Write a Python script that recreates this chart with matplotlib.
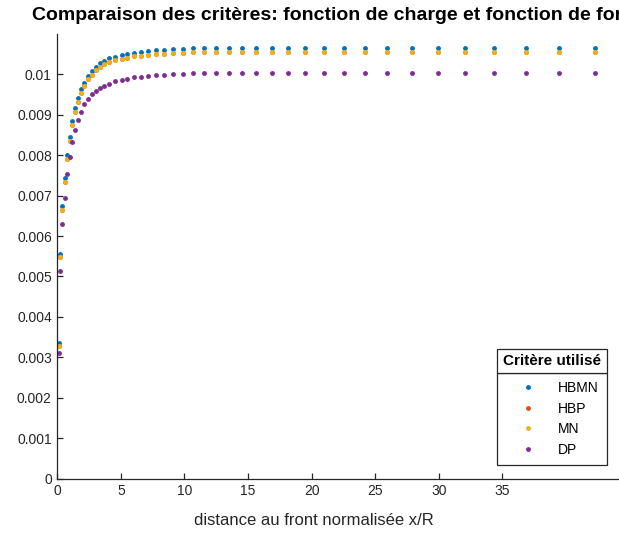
import numpy as np
import matplotlib
matplotlib.use("Agg")
import matplotlib.pyplot as plt
from matplotlib.patches import Rectangle

plt.rcParams['font.family'] = ['Liberation Sans', 'DejaVu Sans']

# x/R positions (same grid for every criterion)
x_norm = [0.13, 0.25, 0.39, 0.61, 0.79, 0.96, 1.18, 1.39, 1.60, 1.86,
          2.12, 2.41, 2.73, 3.04, 3.36, 3.67, 4.06, 4.54, 5.06, 5.50,
          6.03, 6.58, 7.15, 7.76, 8.41, 9.07, 9.86, 10.69, 11.56, 12.48,
          13.50, 14.52, 15.62, 16.88, 18.14, 19.47, 20.97, 22.54, 24.19, 25.92,
          27.89, 29.93, 32.05, 34.33, 36.85, 39.44, 42.27]

hbmn = [0.00335, 0.00555, 0.00674, 0.00743, 0.00800, 0.00844, 0.00884, 0.00916, 0.00942, 0.00963,
        0.00979, 0.00996, 0.01008, 0.01019, 0.01027, 0.01033, 0.01039, 0.01043, 0.01047, 0.01050,
        0.01053, 0.01055, 0.01057, 0.01059, 0.01061, 0.01062, 0.01063, 0.01064, 0.01065, 0.01065,
        0.01066, 0.01066, 0.01066, 0.01066, 0.01066, 0.01066, 0.01066, 0.01066, 0.01066, 0.01066,
        0.01066, 0.01066, 0.01066, 0.01066, 0.01066, 0.01066, 0.01066]
hbp = [0.00329, 0.00547, 0.00665, 0.00733, 0.00790, 0.00834, 0.00874, 0.00906, 0.00932, 0.00953,
       0.00970, 0.00987, 0.00999, 0.01010, 0.01018, 0.01024, 0.01030, 0.01034, 0.01038, 0.01041,
       0.01044, 0.01046, 0.01048, 0.01050, 0.01051, 0.01052, 0.01053, 0.01054, 0.01055, 0.01055,
       0.01056, 0.01056, 0.01056, 0.01056, 0.01056, 0.01056, 0.01056, 0.01056, 0.01056, 0.01056,
       0.01056, 0.01056, 0.01056, 0.01056, 0.01056, 0.01056, 0.01056]
mn = [0.00329, 0.00547, 0.00665, 0.00733, 0.00790, 0.00834, 0.00874, 0.00906, 0.00932, 0.00953,
      0.00970, 0.00987, 0.00999, 0.01010, 0.01018, 0.01024, 0.01030, 0.01034, 0.01038, 0.01041,
      0.01044, 0.01046, 0.01048, 0.01050, 0.01051, 0.01052, 0.01053, 0.01054, 0.01055, 0.01055,
      0.01056, 0.01056, 0.01056, 0.01056, 0.01056, 0.01056, 0.01056, 0.01056, 0.01056, 0.01056,
      0.01056, 0.01056, 0.01056, 0.01056, 0.01056, 0.01056, 0.01056]
dp = [0.00310, 0.00513, 0.00630, 0.00693, 0.00753, 0.00795, 0.00832, 0.00862, 0.00887, 0.00907,
      0.00926, 0.00939, 0.00950, 0.00958, 0.00966, 0.00972, 0.00977, 0.00982, 0.00986, 0.00989,
      0.00992, 0.00994, 0.00996, 0.00998, 0.00999, 0.01000, 0.01001, 0.01002, 0.01002, 0.01003,
      0.01003, 0.01004, 0.01004, 0.01004, 0.01004, 0.01004, 0.01004, 0.01004, 0.01004, 0.01004,
      0.01004, 0.01004, 0.01004, 0.01004, 0.01004, 0.01004, 0.01004]

criteres = ['HBMN', 'HBP', 'MN', 'DP']
couleurs = ['#0072BD', '#D95319', '#EDB120', '#7E2F8E']
xticks = [0, 5, 10, 15, 20, 25, 30, 35]
yticks = [0, 0.001, 0.002, 0.003, 0.004, 0.005, 0.006, 0.007, 0.008, 0.009, 0.01]
ytick_labels = ['0', '0.001', '0.002', '0.003', '0.004', '0.005', '0.006', '0.007', '0.008', '0.009', '0.01']

AX = '#262626'
W, H = 619, 540
fig = plt.figure(figsize=(W / 100, H / 100), dpi=100)
# axes run past the right border of the figure
ax = fig.add_axes([0.0926, 0.1135, 0.916, 0.824])
for y, c, lab in zip([hbmn, hbp, mn, dp], couleurs, criteres):
    ax.plot(x_norm, y, ls='none', marker='o', ms=3.5, mew=0, color=c, label=lab)

ax.set_xlim(0, 44.6); ax.set_ylim(0, 0.011)
ax.set_xticks(xticks); ax.set_yticks(yticks); ax.set_yticklabels(ytick_labels)
for s in ['top', 'right']: ax.spines[s].set_visible(False)
for s in ['left', 'bottom']: ax.spines[s].set_color(AX); ax.spines[s].set_linewidth(0.9)
ax.tick_params(direction='in', length=4, width=0.9, colors=AX, labelsize=10, pad=4)
ax.set_xlabel("distance au front normalisée x/R", fontsize=12, color=AX)
ax.xaxis.set_label_coords((314 - 57.3) / 567, -0.076)

# the title is wider than the figure, its end runs off the right border
fig.text(32 / W, 1 - 15 / H, "Comparaison des critères: fonction de charge et fonction de forme",
         fontsize=14, fontweight='bold', ha='left', va='center')

# legend: entries box + separate title cell on top (MATLAB-style legend title)
lx, lw, ltop, lsep = 497, 110, 349, 373
leg = ax.legend(loc='upper left', bbox_to_anchor=(lx / W, 1 - lsep / H, lw / W, 0),
                bbox_transform=fig.transFigure, mode='expand', borderaxespad=0,
                fancybox=False, edgecolor=AX, framealpha=1, fontsize=10,
                handlelength=3.2, handletextpad=0.55, labelspacing=0.46, borderpad=0.6)
leg.get_frame().set_linewidth(0.9)
fig.add_artist(Rectangle((lx / W, 1 - lsep / H), lw / W, (lsep - ltop) / H, transform=fig.transFigure,
                         facecolor='white', edgecolor=AX, lw=0.9, zorder=6))
fig.text((lx + lw / 2) / W, 1 - (ltop + lsep) / 2 / H, "Critère utilisé", fontsize=11,
         fontweight='bold', ha='center', va='center', zorder=7)

fig.savefig("out.png", dpi=100)
